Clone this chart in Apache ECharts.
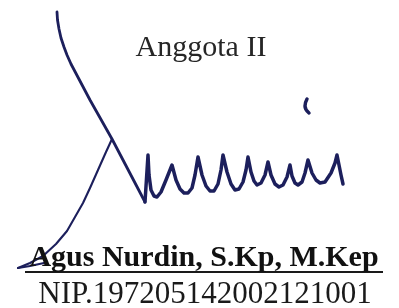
<!DOCTYPE html>
<html>
<head>
<meta charset="utf-8">
<script src="https://cdn.jsdelivr.net/npm/echarts@6/dist/echarts.min.js"></script>
<style>
  html, body { margin: 0; padding: 0; background: #fff; }
  #chart-container { width: 399px; height: 308px; }
</style>
</head>
<body>
<div id="chart-container"></div>
<script>
// Textos
const judul = 'Anggota II';
const nama = 'Agus Nurdin, S.Kp, M.Kep';
const nip = 'NIP.197205142002121001';

// Trazos de la firma (x, y en píxeles de la imagen)
const trazoSuperior = [[57, 12], [57.5, 20], [59, 29], [61, 38], [64, 47], [67, 55], [71, 64], [90, 100], [112, 139], [145, 202]];
const trazoInferior = [[112, 139], [106, 152], [98, 170], [90, 188], [83, 203], [75, 217], [67, 231], [56, 244], [43, 256], [30, 263], [18, 268]];
const gancho = [[18, 268], [30, 266], [44, 263]];
const zigzag = [
  [145, 202], [148, 155],
  [149, 175], [151, 190], [154, 196], [157, 197], [161, 192], [166, 180], [172, 165],
  [176, 180], [180, 189], [184, 193], [188, 193], [192, 188], [195, 175], [198, 157],
  [202, 175], [206, 186], [210, 191], [214, 191], [218, 184], [221, 170], [223, 155],
  [227, 172], [231, 184], [235, 190], [239, 189], [243, 182], [246, 170], [248, 157],
  [251, 172], [254, 181], [257, 185], [261, 183], [265, 175], [268, 162],
  [271, 175], [275, 184], [279, 187], [283, 185], [287, 177], [290, 165],
  [292, 176], [295, 183], [298, 185], [302, 182], [305, 173], [308, 160],
  [312, 173], [316, 180], [320, 183], [325, 182], [331, 173], [335, 163], [337, 155],
  [339, 165], [341, 175], [343, 184]
];
const titik = [[307, 99], [305, 106], [309, 113]];
const garisBawah = [[25, 272], [383, 272]];

let myChart = echarts.init(document.getElementById('chart-container'), null, { renderer: 'canvas' });

const tinta = '#1c1f5c';

function trazo(datos, ancho, suave) {
  return {
    type: 'line',
    data: datos,
    smooth: suave,
    symbol: 'none',
    silent: true,
    lineStyle: { color: tinta, width: ancho, cap: 'round', join: 'round' }
  };
}

const opciones = {
  animation: false,
  backgroundColor: '#fff',
  grid: { left: 0, right: 0, top: 0, bottom: 0 },
  xAxis: { type: 'value', min: 0, max: 399, show: false },
  yAxis: { type: 'value', min: 0, max: 308, inverse: true, show: false },
  series: [
    trazo(trazoSuperior, 2.8, false),
    trazo(trazoInferior, 2.1, false),
    trazo(gancho, 2.2, false),
    trazo(zigzag, 3.5, false),
    trazo(titik, 3.5, 0.5),
    {
      type: 'line',
      data: garisBawah,
      symbol: 'none',
      silent: true,
      lineStyle: { color: '#1a1a1a', width: 2 }
    }
  ],
  graphic: [
    {
      type: 'text', x: 201, y: 48, z: 10,
      style: { text: judul, font: '30px "Liberation Serif"', fill: '#262626', align: 'center', verticalAlign: 'middle' }
    },
    {
      type: 'text', x: 204, y: 258, z: 10,
      style: { text: nama, font: 'bold 30px "Liberation Serif"', fill: '#111', align: 'center', verticalAlign: 'middle' }
    },
    {
      type: 'text', x: 205, y: 295, z: 10,
      style: { text: nip, font: '31px "Liberation Serif"', fill: '#1a1a1a', align: 'center', verticalAlign: 'middle' }
    }
  ]
};

myChart.setOption(opciones);
window.addEventListener('resize', myChart.resize);
</script>
</body>
</html>
